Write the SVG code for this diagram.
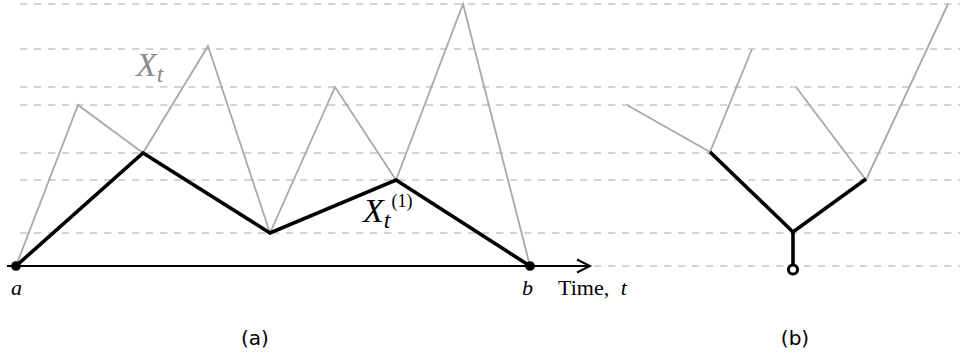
<svg xmlns="http://www.w3.org/2000/svg" width="965" height="360" viewBox="0 0 965 360">
<defs>
<style>
.grid{stroke:#d4d4d4;stroke-width:2;stroke-dasharray:7.3,6.7;fill:none}
.gray{stroke:#a8a8a8;stroke-width:1.8;fill:none;stroke-linejoin:miter}
.blk{stroke:#000;stroke-width:3.6;fill:none;stroke-linejoin:miter}
.serif{font-family:"Liberation Serif","Times New Roman",serif}
.it{font-style:italic}
.cap{font-family:"DejaVu Sans","Liberation Sans",sans-serif;font-size:20px;fill:#000}
</style>
</defs>
<rect width="965" height="360" fill="#fff"/>
<g id="grid">
<line class="grid" x1="20" y1="4" x2="960" y2="4"/>
<line class="grid" x1="20" y1="49" x2="960" y2="49"/>
<line class="grid" x1="20" y1="87" x2="960" y2="87"/>
<line class="grid" x1="20" y1="105" x2="960" y2="105"/>
<line class="grid" x1="20" y1="153" x2="960" y2="153"/>
<line class="grid" x1="20" y1="180" x2="960" y2="180"/>
<line class="grid" x1="20" y1="233" x2="960" y2="233"/>
<line class="grid" x1="20" y1="266" x2="960" y2="266"/>
</g>
<g id="panel-a">
<polyline id="Xt" class="gray" points="16,266 78,105 143,153 208,46 270,233 335,87 396,180 463,4 530,266"/>
<polyline id="Xt1" class="blk" points="16,266 143,153 270,233 396,180 530,266"/>
<g id="axis">
<line x1="7" y1="266" x2="589" y2="266" stroke="#000" stroke-width="2"/>
<polyline points="577,259.5 590,266 577,272.5" fill="none" stroke="#000" stroke-width="2"/>
</g>
<circle id="a" cx="16" cy="266" r="4.8" fill="#000"/>
<circle id="b" cx="530" cy="266" r="4.8" fill="#000"/>
<text class="serif it" x="11" y="295" style="font-size:22px">a</text>
<text class="serif it" x="522" y="295" style="font-size:22px">b</text>
<text class="serif" x="558" y="295" style="font-size:22px">Time, <tspan class="it" dx="6">t</tspan></text>
<text class="serif it" x="136" y="76" style="font-size:34px" fill="#8a8a8a">X<tspan style="font-size:24px" dy="6">t</tspan></text>
<text class="serif it" x="363" y="222" style="font-size:34px" fill="#000">X<tspan style="font-size:24px" dy="6">t</tspan><tspan style="font-style:normal;font-size:18px" dx="1" dy="-21">(1)</tspan></text>
<text class="cap" x="255" y="345" text-anchor="middle">(a)</text>
</g>
<g id="panel-b">
<g id="tree-gray">
<polyline class="gray" points="627,105 710,152 752,49"/>
<polyline class="gray" points="796,87 866,180 948,4"/>
</g>
<g id="tree-black">
<polyline class="blk" points="710,152 793,232 866,179"/>
<line class="blk" x1="793" y1="232" x2="793" y2="264"/>
</g>
<circle id="root" cx="793" cy="269.5" r="4.6" fill="#fff" stroke="#000" stroke-width="3"/>
<text class="cap" x="795" y="345" text-anchor="middle">(b)</text>
</g>
</svg>
